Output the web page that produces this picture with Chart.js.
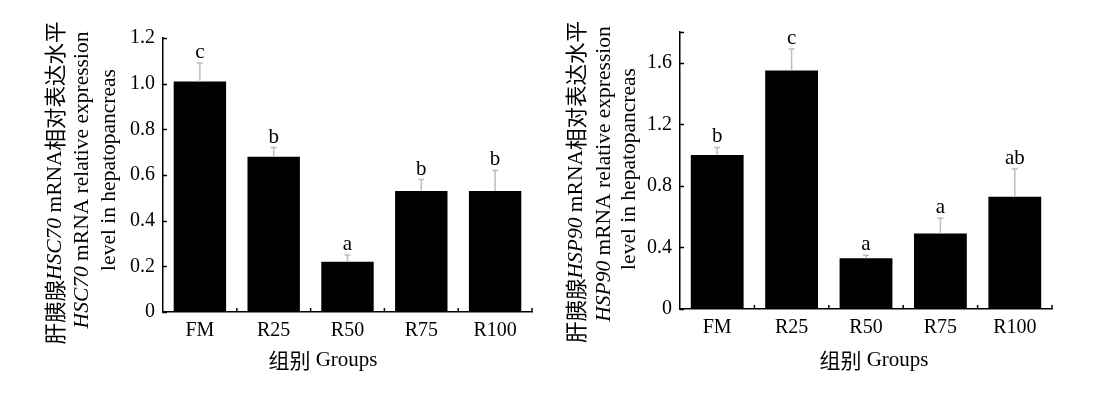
<!DOCTYPE html>
<html lang="zh-CN">
<head>
    <meta charset="UTF-8">
    <title>HSC70 / HSP90 mRNA</title>
    <script src="https://cdn.jsdelivr.net/npm/chart.js"></script>
    <style>
        body { margin: 0; background: #fff; }
        .wrap { position: absolute; top: 0; width: 551px; height: 393px; }
        #left { left: 0; }
        #right { left: 551px; }
    </style>
</head>
<body>
    <div class="wrap" id="left"><canvas id="hscChart" width="551" height="393"></canvas></div>
    <div class="wrap" id="right"><canvas id="hspChart" width="551" height="393"></canvas></div>
    <script>
        // 数据
        const groups = ['FM', 'R25', 'R50', 'R75', 'R100'];

        const hsc70Means = [1.01, 0.68, 0.22, 0.53, 0.53];
        const hsc70Errors = [0.08, 0.04, 0.03, 0.05, 0.09];
        const hsc70Letters = ['c', 'b', 'a', 'b', 'b'];

        const hsp90Means = [1.00, 1.55, 0.33, 0.49, 0.73];
        const hsp90Errors = [0.05, 0.14, 0.02, 0.10, 0.18];
        const hsp90Letters = ['b', 'c', 'a', 'a', 'ab'];

        const SERIF = '"Liberation Serif", "Times New Roman", serif';
        const CJK = '"Noto Sans CJK SC", sans-serif';

        // 混合字体文字（中文 + 斜体基因名）
        function drawParts(ctx, parts, cx, cy) {
            let total = 0;
            parts.forEach(p => { ctx.font = p[1]; total += ctx.measureText(p[0]).width; });
            let x = cx - total / 2;
            ctx.textAlign = 'left';
            ctx.textBaseline = 'middle';
            parts.forEach(p => {
                ctx.font = p[1];
                ctx.fillText(p[0], x, cy);
                x += ctx.measureText(p[0]).width;
            });
        }

        function makeOverlay(means, errors, letters, titleLines) {
            return {
                id: 'overlay',
                afterDatasetsDraw(chart) {
                    const ctx = chart.ctx;
                    const ca = chart.chartArea;
                    const xs = chart.scales.x, ys = chart.scales.y;
                    const meta = chart.getDatasetMeta(0);
                    ctx.save();

                    // 误差线和显著性字母
                    meta.data.forEach((bar, i) => {
                        const top = ys.getPixelForValue(means[i] + errors[i]);
                        ctx.strokeStyle = '#bdbdbd';
                        ctx.lineWidth = 1.5;
                        ctx.beginPath();
                        ctx.moveTo(bar.x, bar.y);
                        ctx.lineTo(bar.x, top);
                        ctx.moveTo(bar.x - 3, top);
                        ctx.lineTo(bar.x + 3, top);
                        ctx.stroke();
                        ctx.fillStyle = '#000';
                        ctx.font = '21px ' + SERIF;
                        ctx.textAlign = 'center';
                        ctx.textBaseline = 'alphabetic';
                        ctx.fillText(letters[i], bar.x, top - 5);
                    });

                    // 向内的刻度线
                    ctx.strokeStyle = '#000';
                    ctx.lineWidth = 1.5;
                    ctx.beginPath();
                    ys.ticks.forEach(t => {
                        const py = Math.round(ys.getPixelForValue(t.value)) + 0.5;
                        ctx.moveTo(ca.left, py);
                        ctx.lineTo(ca.left + 4, py);
                    });
                    const n = groups.length;
                    for (let i = 1; i <= n; i++) {
                        const px = xs.left + i * xs.width / n;
                        ctx.moveTo(px, ca.bottom);
                        ctx.lineTo(px, ca.bottom - 4);
                    }
                    ctx.stroke();

                    // 纵轴标题
                    ctx.fillStyle = '#000';
                    titleLines.forEach(line => {
                        ctx.save();
                        ctx.translate(line.x, line.y);
                        ctx.rotate(-Math.PI / 2);
                        drawParts(ctx, line.parts, 0, 0);
                        ctx.restore();
                    });

                    // 横轴标题
                    drawParts(ctx, [['组别', '21px ' + CJK], [' Groups', '21px ' + SERIF]], 323, 360);
                    ctx.restore();
                }
            };
        }

        function tickLabel(v) {
            if (v > 1.7) return '';
            return v === 0 ? '0' : v.toFixed(1);
        }

        function createChart(id, means, errors, letters, yMax, yStep, padding, titleLines) {
            new Chart(document.getElementById(id), {
                type: 'bar',
                data: {
                    labels: groups,
                    datasets: [{
                        data: means,
                        backgroundColor: '#000',
                        borderWidth: 0,
                        barPercentage: 0.71,
                        categoryPercentage: 1.0
                    }]
                },
                options: {
                    responsive: false,
                    animation: false,
                    layout: { padding: padding },
                    plugins: { legend: { display: false }, tooltip: { enabled: false } },
                    scales: {
                        x: {
                            grid: { drawOnChartArea: false, drawTicks: false },
                            border: { display: true, color: '#000', width: 1.5 },
                            ticks: { color: '#000', font: { family: SERIF, size: 20 }, padding: 7, maxRotation: 0, autoSkip: false },
                            afterFit: s => { s.height = 30; }
                        },
                        y: {
                            min: 0,
                            max: yMax,
                            grid: { drawOnChartArea: false, drawTicks: false },
                            border: { display: true, color: '#000', width: 1.5 },
                            ticks: { stepSize: yStep, color: '#000', font: { family: SERIF, size: 20 }, padding: 8, callback: tickLabel },
                            afterFit: s => { s.width = 43; }
                        }
                    }
                },
                plugins: [makeOverlay(means, errors, letters, titleLines)]
            });
        }

        const TF = 21.5;
        createChart('hscChart', hsc70Means, hsc70Errors, hsc70Letters, 1.2, 0.2,
            { left: 120, right: 19, top: 38, bottom: 51 },
            [
                { x: 55, y: 183, parts: [['肝胰腺', TF + 'px ' + CJK], ['HSC70', 'italic ' + TF + 'px ' + SERIF], [' mRNA', TF + 'px ' + SERIF], ['相对表达水平', TF + 'px ' + CJK]] },
                { x: 82, y: 180, parts: [['HSC70', 'italic ' + TF + 'px ' + SERIF], [' mRNA relative expression', TF + 'px ' + SERIF]] },
                { x: 109, y: 170, parts: [['level in hepatopancreas', TF + 'px ' + SERIF]] }
            ]);

        createChart('hspChart', hsp90Means, hsp90Errors, hsp90Letters, 1.8, 0.4,
            { left: 86, right: 50, top: 32, bottom: 54 },
            [
                { x: 25, y: 182, parts: [['肝胰腺', TF + 'px ' + CJK], ['HSP90', 'italic ' + TF + 'px ' + SERIF], [' mRNA', TF + 'px ' + SERIF], ['相对表达水平', TF + 'px ' + CJK]] },
                { x: 53, y: 174, parts: [['HSP90', 'italic ' + TF + 'px ' + SERIF], [' mRNA relative expression', TF + 'px ' + SERIF]] },
                { x: 78, y: 169, parts: [['level in hepatopancreas', TF + 'px ' + SERIF]] }
            ]);
    </script>
</body>
</html>
